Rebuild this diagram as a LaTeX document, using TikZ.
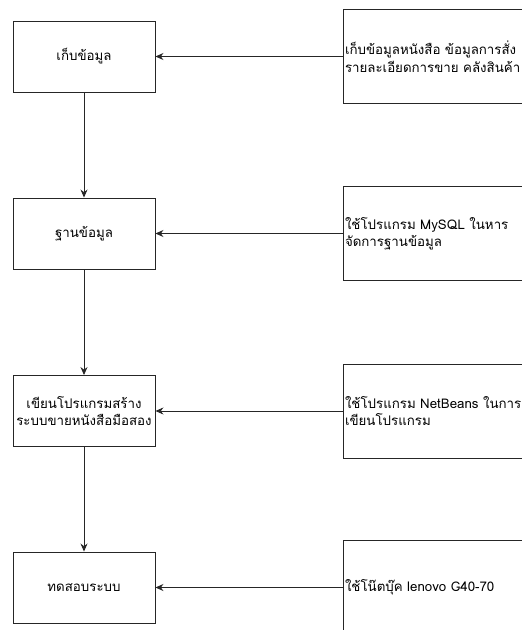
\documentclass[tikz,border=0pt]{standalone}
\usepackage{fontspec}
\newfontfamily\thaifont[Script=Thai]{Loma}
\usetikzlibrary{arrows.meta}

\tikzset{
  stepbox/.style={draw=black!85, line width=0.9pt, fill=white,
    minimum width=142pt, minimum height=71pt, align=center, inner sep=1pt,
    font=\thaifont\fontsize{13.3}{17.5}\selectfont},
  notebox/.style={draw=black!85, line width=0.9pt, fill=white,
    minimum height=94pt, text width=186pt, align=left, inner sep=2pt,
    font=\thaifont\fontsize{13.3}{17.5}\selectfont},
  flow/.style={draw=black!85, line width=0.9pt, -{Stealth[length=8pt,width=7pt]}}
}

\begin{document}
\begin{tikzpicture}[x=1pt,y=-1pt]
  \useasboundingbox (0,0) rectangle (522,630);
  \clip (0,0) rectangle (522,630);
  % steps on the left
  \node[stepbox] (collect) at (84,56.5) {เก็บข้อมูล};
  \node[stepbox] (database) at (84,233.5) {ฐานข้อมูล};
  \node[stepbox] (program) at (84,411) {เขียนโปรแกรมสร้าง\\ระบบขายหนังสือมือสอง};
  \node[stepbox] (testing) at (84,587.5) {ทดสอบระบบ};
  % notes on the right
  \node[notebox] (collectnote) at (438,56.5) {เก็บข้อมูลหนังสือ ข้อมูลการสั่ง\\รายละเอียดการขาย คลังสินค้า};
  \node[notebox] (dbnote) at (438,233.5) {ใช้โปรแกรม MySQL ในหาร\\จัดการฐานข้อมูล};
  \node[notebox] (prognote) at (438,411) {ใช้โปรแกรม NetBeans ในการ\\เขียนโปรแกรม};
  \node[notebox] (testnote) at (438,587.5) {ใช้โน๊ตบุ๊ค lenovo G40-70};
  % connectors
  \draw[flow] (collect) -- (database);
  \draw[flow] (database) -- (program);
  \draw[flow] (program) -- (testing);
  \draw[flow] (collectnote) -- (collect);
  \draw[flow] (dbnote) -- (database);
  \draw[flow] (prognote) -- (program);
  \draw[flow] (testnote) -- (testing);
\end{tikzpicture}
\end{document}
